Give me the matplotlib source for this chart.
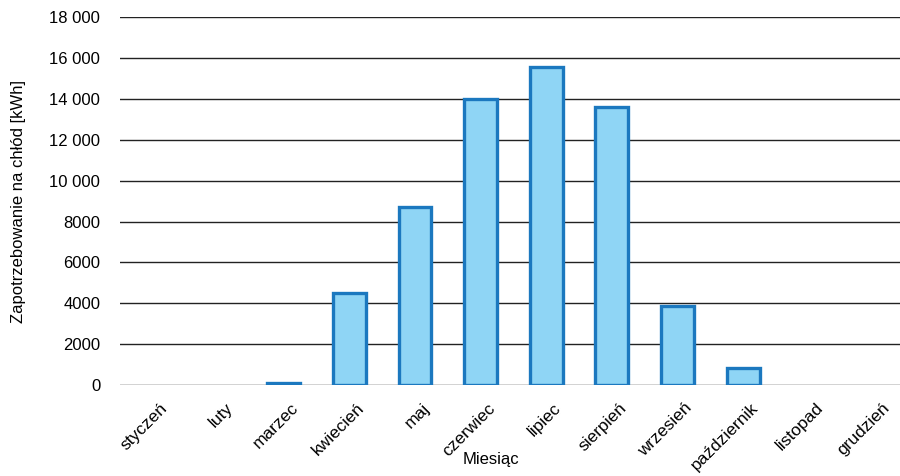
import matplotlib
matplotlib.use("Agg")
import matplotlib.pyplot as plt
import matplotlib.transforms as mtransforms
import numpy as np

months = ["styczeń", "luty", "marzec", "kwiecień", "maj", "czerwiec", "lipiec",
          "sierpień", "wrzesień", "październik", "listopad", "grudzień"]
cooling = [0, 0, 100, 4500, 8700, 14000, 15550, 13600, 3850, 850, 0, 0]
yticks = [0, 2000, 4000, 6000, 8000, 10000, 12000, 14000, 16000, 18000]
ytick_labels = ["0", "2000", "4000", "6000", "8000", "10 000", "12 000",
                "14 000", "16 000", "18 000"]

plt.rcParams["font.family"] = ["Liberation Sans", "DejaVu Sans"]

fig = plt.figure(figsize=(9, 4.76), dpi=100)
ax = fig.add_axes([0.133, 0.191, 0.867, 0.773])

x = np.arange(len(months))
vals = np.array(cooling, dtype=float)
shown = vals > 0  # empty months draw no bar at all
ax.bar(x[shown], vals[shown], width=0.5, color="#8fd5f5", edgecolor="#1b78bf",
       linewidth=2.4, zorder=3)

ax.set_ylim(0, 18000)
ax.set_xlim(-0.5, 11.39)
ax.set_yticks(yticks)
ax.set_yticklabels(ytick_labels, fontsize=12)
ax.set_xticks(x)
ax.set_xticklabels(months, rotation=45, ha="right", rotation_mode="anchor",
                   fontsize=12.5)
ax.tick_params(length=0, pad=14)
ax.tick_params(axis="x", pad=11)
shift = mtransforms.ScaledTranslation(7 / 100, 0, fig.dpi_scale_trans)
for lbl in ax.get_xticklabels():
    lbl.set_transform(lbl.get_transform() + shift)
ax.yaxis.grid(True, color="#222222", linewidth=1.0)
ax.set_axisbelow(True)
for s in ax.spines.values():
    s.set_visible(False)

ax.set_ylabel("Zapotrzebowanie na chłód [kWh]", fontsize=12, labelpad=17)
fig.text(0.545, 0.025, "Miesiąc", ha="center", fontsize=12)

fig.savefig("out.png", dpi=100)
